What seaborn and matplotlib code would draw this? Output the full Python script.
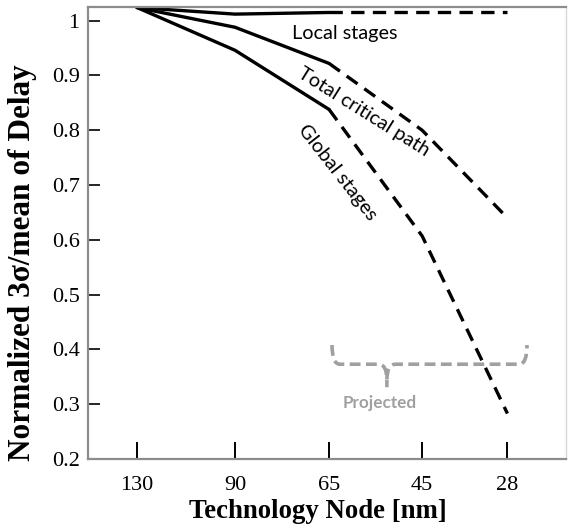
import matplotlib
matplotlib.use("Agg")
import matplotlib.pyplot as plt
from matplotlib.path import Path
from matplotlib.patches import PathPatch
import numpy as np
import pandas as pd
import seaborn as sns

# Technology nodes and their positions along the x axis
nodes = ["130", "90", "65", "45", "28"]
node_pos = [0.0, 1.0, 1.96, 2.91, 3.78]

# Normalized 3-sigma / mean of delay per node
local_stages = [1.024, 1.012, 1.015, 1.015, 1.015]
total_path = [1.024, 0.988, 0.922, 0.800, 0.640]
global_stages = [1.024, 0.946, 0.838, 0.607, 0.283]

# first three nodes are measured, the rest projected
n_measured = 3

y_ticks = [0.2, 0.3, 0.4, 0.5, 0.6, 0.7, 0.8, 0.9, 1.0]
y_tick_labels = ["0.2", "0.3", "0.4", "0.5", "0.6", "0.7", "0.8", "0.9", "1"]

sns.set_theme(style="white")
plt.rcParams["font.family"] = ["Liberation Serif", "DejaVu Serif"]
plt.rcParams["text.color"] = "black"
plt.rcParams["axes.labelcolor"] = "black"
plt.rcParams["xtick.color"] = "black"
plt.rcParams["ytick.color"] = "black"

fig = plt.figure(figsize=(5.68, 5.26), dpi=100)
ax = fig.add_axes([0.155, 0.1274, 0.8415, 0.8593])

series = {"Local": local_stages, "Total": total_path, "Global": global_stages}
for name, vals in series.items():
    df = pd.DataFrame({"pos": node_pos, "val": vals})
    sns.lineplot(data=df.iloc[:n_measured], x="pos", y="val", ax=ax,
                 color="black", linewidth=2.4, solid_capstyle="round")
    sns.lineplot(data=df.iloc[n_measured - 1:], x="pos", y="val", ax=ax,
                 color="black", linewidth=2.4, linestyle=(0, (4.0, 2.5)))

ax.set_xlim(-0.5, 4.378)
ax.set_ylim(0.2, 1.025)
ax.set_xticks(node_pos)
ax.set_xticklabels(nodes)
ax.set_yticks(y_ticks)
ax.set_yticklabels(y_tick_labels)

ax.tick_params(axis="x", direction="in", length=12, width=1.4, color="black",
               labelsize=16, pad=12, bottom=True)
ax.tick_params(axis="y", direction="in", length=8.5, width=1.2, color="black",
               labelsize=16, pad=6, left=True)
for t in ax.yaxis.get_major_ticks():
    if t.get_loc() == 0.2:
        t.tick1line.set_visible(False)

for side in ["left", "bottom", "top", "right"]:
    ax.spines[side].set_visible(True)
    ax.spines[side].set_color("#8c8c8c")
    ax.spines[side].set_linewidth(1.6)
ax.spines["right"].set_color("#d8d8d8")
ax.spines["right"].set_linewidth(1.0)

ax.set_xlabel("Technology Node [nm]", fontsize=19.3, fontweight="bold")
ax.xaxis.set_label_coords(0.481, -0.089)
ax.set_ylabel("Normalized 3σ/mean of Delay", fontsize=22.5, fontweight="bold")
ax.yaxis.set_label_coords(-0.106, 0.435)

label_font = ["Lato", "DejaVu Sans"]
ax.text(2.12, 0.977, "Local stages", fontsize=14.3, family=label_font,
        ha="center", va="center")
ax.text(2.31, 0.834, "Total critical path", fontsize=14.3, family=label_font,
        ha="center", va="center", rotation=-32, rotation_mode="anchor")
ax.text(2.05, 0.722, "Global stages", fontsize=14.3, family=label_font,
        ha="center", va="center", rotation=-52, rotation_mode="anchor")

# curly brace marking the projected nodes
brace_color = "#a0a0a0"
verts = [(1.99, 0.408), (1.99, 0.373), (2.07, 0.373),
         (2.46, 0.373),
         (2.55, 0.373), (2.55, 0.345),
         (2.55, 0.331),
         (2.55, 0.345), (2.55, 0.373), (2.64, 0.373),
         (3.90, 0.373),
         (3.98, 0.373), (3.98, 0.408)]
codes = [Path.MOVETO, Path.CURVE3, Path.CURVE3,
         Path.LINETO,
         Path.CURVE3, Path.CURVE3,
         Path.LINETO,
         Path.MOVETO, Path.CURVE3, Path.CURVE3,
         Path.LINETO,
         Path.CURVE3, Path.CURVE3]
ax.add_patch(PathPatch(Path(verts, codes), fill=False, edgecolor=brace_color,
                       linewidth=2.6, linestyle=(0, (3.0, 1.5)),
                       capstyle="butt"))
ax.text(2.48, 0.302, "Projected", fontsize=12.3, family=label_font,
        fontweight="bold", color=brace_color, ha="center", va="center")

fig.savefig("out.png", dpi=100, facecolor="white")
